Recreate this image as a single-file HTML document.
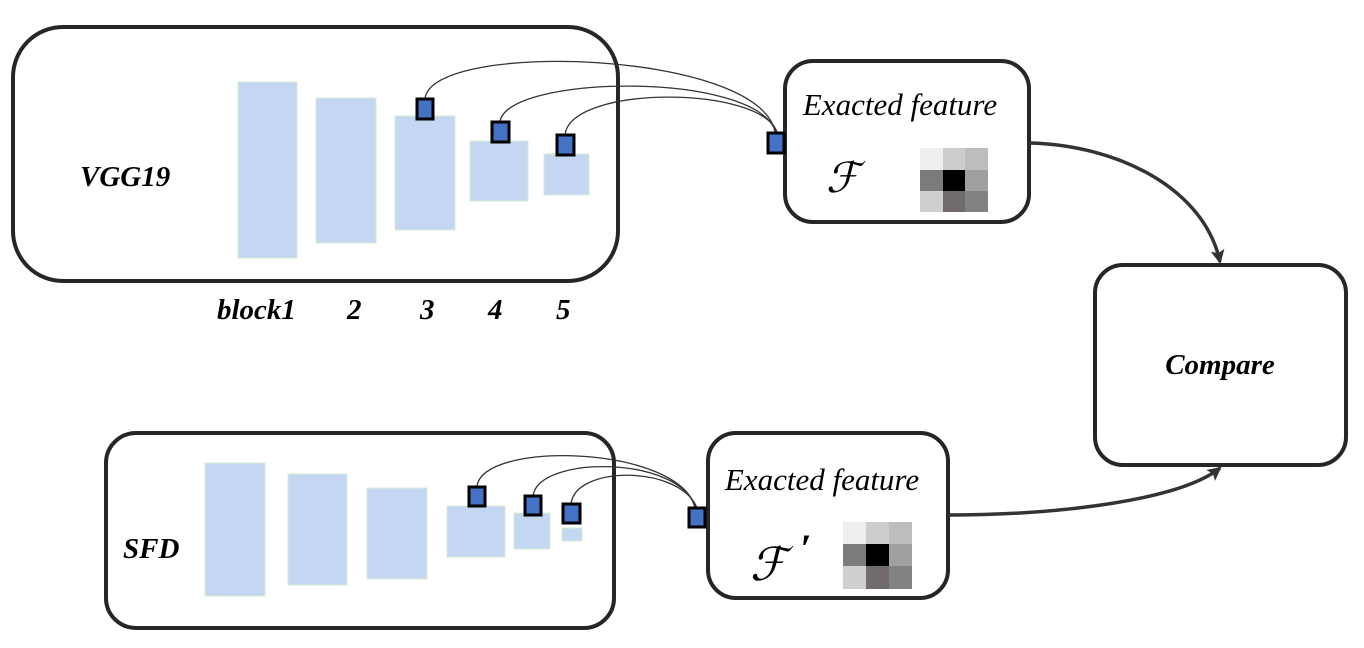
<!DOCTYPE html>
<html><head><style>
html,body{margin:0;padding:0;background:#fff;width:1364px;height:648px;overflow:hidden}
svg text{font-family:"Liberation Serif",serif}
</style></head><body>
<svg width="1364" height="648" viewBox="0 0 1364 648" xmlns="http://www.w3.org/2000/svg">
<defs>
<marker id="ah" markerWidth="16" markerHeight="16" refX="12" refY="7" orient="auto" markerUnits="userSpaceOnUse">
<path d="M0,0 L14,7 L0,14 L3,7 z" fill="#333"/>
</marker>
</defs>
<g fill="none" stroke="#262626" stroke-width="4">
<rect x="13" y="27" width="605" height="254" rx="50"/>
<rect x="785" y="61" width="244" height="161" rx="28"/>
<rect x="1095" y="265" width="251" height="200" rx="28"/>
<rect x="106" y="433" width="508" height="195" rx="30"/>
<rect x="708" y="433" width="240" height="165" rx="28"/>
</g>
<g fill="#c3d6f2" stroke="#d7ecd0" stroke-width="1">
<rect x="238" y="82" width="59" height="176"/>
<rect x="316" y="98" width="60" height="145"/>
<rect x="395" y="116" width="60" height="114"/>
<rect x="470" y="141" width="58" height="60"/>
<rect x="544" y="154" width="45" height="41"/>
<rect x="205" y="463" width="60" height="133"/>
<rect x="288" y="474" width="59" height="111"/>
<rect x="367" y="488" width="60" height="91"/>
<rect x="447" y="506" width="58" height="51"/>
<rect x="514" y="513" width="36" height="36"/>
<rect x="562" y="528" width="20" height="13"/>
</g>
<g fill="none" stroke="#333" stroke-width="1.3">
<path d="M425,99 C430,40 760,50 775,132"/>
<path d="M500,122 C505,75 755,70 776,132"/>
<path d="M565,135 C570,85 760,85 777,132"/>
<path d="M477,487 C480,440 680,445 695,508"/>
<path d="M533,496 C538,455 680,455 696,508"/>
<path d="M571,504 C575,465 680,465 697,508"/>
</g>
<g fill="#4472c4" stroke="#000" stroke-width="3">
<rect x="417" y="99" width="16" height="20"/>
<rect x="492" y="122" width="17" height="20"/>
<rect x="557" y="135" width="17" height="20"/>
<rect x="768" y="133" width="16" height="20"/>
<rect x="469" y="487" width="16" height="19"/>
<rect x="525" y="496" width="16" height="19"/>
<rect x="563" y="504" width="17" height="19"/>
<rect x="689" y="508" width="16" height="19"/>
</g>
<g fill="none" stroke="#333" stroke-width="3.5">
<path d="M1029,143 C1120,145 1205,190 1220,262" marker-end="url(#ah)"/>
<path d="M948,515 C1060,515 1180,500 1220,468" marker-end="url(#ah)"/>
</g>
<g shape-rendering="crispEdges">
<rect x="920" y="148" width="23" height="22" fill="#eeeeee"/><rect x="943" y="148" width="22" height="22" fill="#cdcdcd"/><rect x="965" y="148" width="23" height="22" fill="#bdbdbd"/>
<rect x="920" y="170" width="23" height="21" fill="#7b7b7b"/><rect x="943" y="170" width="22" height="21" fill="#000"/><rect x="965" y="170" width="23" height="21" fill="#a0a0a0"/>
<rect x="920" y="191" width="23" height="21" fill="#cfcfcf"/><rect x="943" y="191" width="22" height="21" fill="#716b6b"/><rect x="965" y="191" width="23" height="21" fill="#828282"/>
<rect x="843" y="522" width="23" height="22" fill="#eeeeee"/><rect x="866" y="522" width="23" height="22" fill="#cdcdcd"/><rect x="889" y="522" width="23" height="22" fill="#bdbdbd"/>
<rect x="843" y="544" width="23" height="22" fill="#7b7b7b"/><rect x="866" y="544" width="23" height="22" fill="#000"/><rect x="889" y="544" width="23" height="22" fill="#a0a0a0"/>
<rect x="843" y="566" width="23" height="23" fill="#cfcfcf"/><rect x="866" y="566" width="23" height="23" fill="#716b6b"/><rect x="889" y="566" width="23" height="23" fill="#828282"/>
</g>
<g font-style="italic" fill="#000">
<text x="900" y="115" font-size="31" text-anchor="middle">Exacted feature</text>
<text x="822" y="490" font-size="31" text-anchor="middle">Exacted feature</text>
<text x="826" y="192" font-size="42" font-family="DejaVu Sans, Liberation Serif, serif" font-weight="normal">ℱ</text>
<text x="750" y="580" font-size="46" font-family="DejaVu Sans, Liberation Serif, serif" font-weight="normal">ℱ</text>
<text x="800" y="562" font-size="40" font-weight="bold">′</text>
<g font-weight="bold" font-size="29">
<text x="80" y="186">VGG19</text>
<text x="123" y="558">SFD</text>
<text x="1220" y="374" text-anchor="middle">Compare</text>
<text x="217" y="319">block1</text>
<text x="347" y="319">2</text>
<text x="420" y="319">3</text>
<text x="488" y="319">4</text>
<text x="556" y="319">5</text>
</g>
</g>
</svg>
</body></html>
